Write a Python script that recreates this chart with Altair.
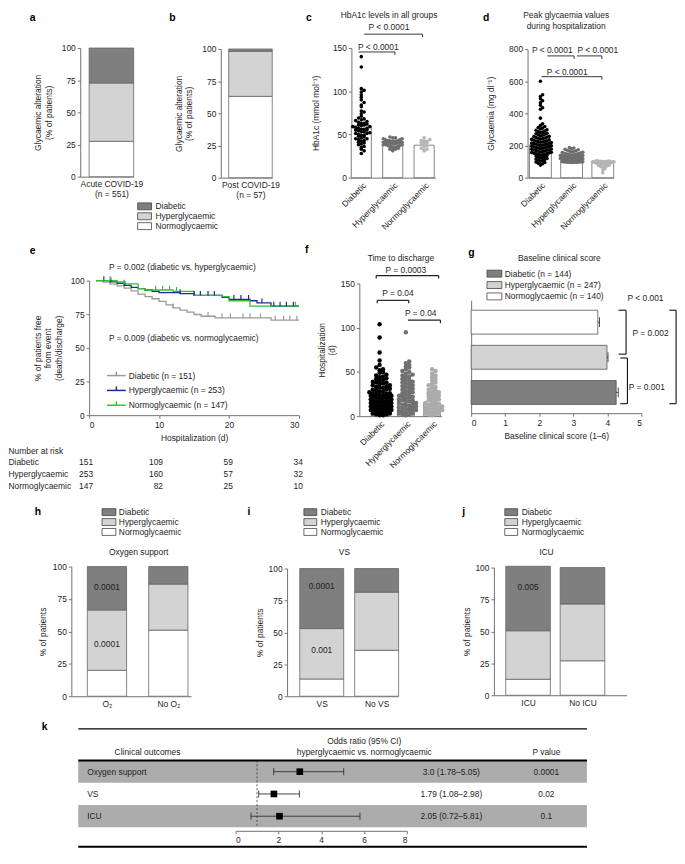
import json
import altair as alt
import pandas as pd

W, H = 676, 846
FONT = "Liberation Sans"
TXT = "#1e1e1e"
AX = "#707070"
FS = 8.5

# ---------------- data ----------------
GROUPS = ["Diabetic", "Hyperglycaemic", "Normoglycaemic"]

# a / b : glycaemic alteration (% of patients)
a_cat = [["Acute COVID-19", "(n = 551)"]]
a_normo, a_hyper, a_diab = [27.5], [45.3], [27.2]
b_cat = [["Post COVID-19", "(n = 57)"]]
b_normo, b_hyper, b_diab = [63.2], [35.0], [1.8]

# c : HbA1c (mmol/mol)
c_means = [60, 39, 37.5]
c_diab = [140, 128, 103, 101, 99, 96, 93, 90, 87, 84, 82, 77, 76, 74, 71, 69, 68, 67, 66, 65,
          64, 63, 63, 62, 61, 61, 60, 59, 59, 58, 57, 57, 56, 56, 55, 55, 54, 53, 53, 52, 51, 51,
          50, 49, 49, 48, 47, 46, 45, 45, 44, 43, 42, 41, 40, 39, 38, 36, 35, 33, 31, 28]
c_hyper = [47, 46, 46, 45, 45, 44, 44, 43, 43, 43, 42, 42, 42, 42, 41, 41, 41, 41, 40, 40, 40,
           40, 39, 39, 39, 38, 38, 38, 37, 37, 36, 36, 35, 35, 34, 33, 33, 32, 31]
c_normo = [46, 44, 43, 42, 42, 41, 40, 39, 38, 37, 36, 34, 33, 32, 31]

# d : peak glycaemia (mg/dl)
d_means = [205, 120, 92]
d_diab = [600, 515, 505, 490, 478, 465, 450, 435, 425, 370, 335, 325, 318, 312, 308, 303, 298,
          295, 290, 287, 283, 280, 276, 273, 270, 267, 264, 260, 257, 255, 252, 250, 247, 245,
          242, 240, 238, 235, 233, 230, 228, 226, 224, 222, 220, 218, 216, 214, 212, 210, 208,
          206, 204, 202, 200, 198, 196, 194, 192, 190, 188, 186, 184, 182, 180, 178, 176, 174,
          172, 170, 168, 166, 164, 162, 160, 158, 156, 154, 152, 150, 148, 146, 144, 142, 140,
          137, 134, 131, 128, 125, 122, 119, 116, 113, 110, 106, 102, 98, 94, 90, 86, 82, 78]
d_hyper = [188, 184, 180, 176, 173, 170, 167, 165, 162, 160, 158, 156, 154, 152, 150, 148, 147,
           145, 144, 142, 141, 140, 138, 137, 136, 135, 134, 133, 132, 131, 130, 129, 128, 127,
           126, 125, 124, 123, 122, 121, 120, 119, 118, 117, 116, 115, 114, 113, 112, 111, 110,
           109, 108, 107, 106, 105, 104, 103, 102, 101, 100, 100, 99, 99, 98, 98, 97, 97, 96, 96,
           96, 95, 95, 95]
d_normo = [105, 104, 103, 102, 101, 100, 100, 99, 99, 98, 97, 96, 95, 94, 94, 93, 92, 91, 90,
           90, 89, 88, 87, 86, 85, 84, 83, 82, 80, 78, 76, 73, 70, 66, 60, 55, 48, 30]

# e : Kaplan-Meier
km_diab_t = [1, 2, 3, 4, 5, 6, 7, 8, 9, 10, 11, 12, 13, 14, 15, 16, 18, 26, 30]
km_diab_s = [100, 98.8, 97.3, 96, 94.4, 92.4, 90, 88, 86.5, 84.6, 82, 79.7, 78, 76.5, 74.8,
             73.5, 72.3, 70.6, 70.6]
km_diab_c = [12, 17, 19, 20.2, 22, 23, 24.5, 26.6, 27.8, 28.7, 29.7]
km_hyper_t = [1, 3, 4, 5, 6, 7, 8, 9, 10, 13, 15, 19, 20, 23, 24, 26, 30]
km_hyper_s = [100, 99, 98, 96.5, 95, 94, 93, 92, 91, 90.3, 89, 87.5, 86, 85, 83.5, 81, 81]
km_hyper_c = [2.1, 3.1, 5.1, 13, 15, 15.9, 17, 17.9, 20.7, 21.7, 22.8, 24.7, 26.4, 27.3, 28.2, 29.2]
km_normo_t = [1, 4, 5, 7, 8, 12, 15, 19, 20, 23, 30]
km_normo_s = [100, 99, 97.5, 94, 93, 92, 89, 88, 85, 81, 81]
km_normo_c = [3, 5, 9.5, 10.5, 11.5, 12.5, 29.5]
km_n = [151, 253, 147]
nar_days = [0, 10, 20, 30]
nar_diab = [151, 109, 59, 34]
nar_hyper = [253, 160, 57, 32]
nar_normo = [147, 82, 25, 10]

# f : time to discharge (days)
f_means = [22, 18, 14]
f_diab = [104, 89, 72, 63, 58, 55, 53, 52, 50, 49, 47, 46, 45, 44, 43, 42, 41, 40, 39, 38, 38,
          37, 36, 35, 35, 34, 33, 32, 32, 31, 30, 30, 29, 28, 28, 27, 26, 26, 25, 25, 24, 24, 23,
          23, 22, 22, 21, 21, 20, 20, 19, 19, 18, 18, 17, 17, 16, 16, 15, 15, 14, 14, 13, 13, 12,
          12, 11, 11, 10, 10, 9, 9, 8, 8, 7, 7, 6, 6, 5, 5, 4, 4, 3, 3, 2, 2, 1, 1]
f_hyper = [95, 62, 60, 58, 56, 55, 53, 51, 50, 48, 47, 46, 45, 44, 42, 41, 40, 39, 38, 37, 36,
           35, 34, 33, 32, 31, 30, 29, 28, 27, 26, 25, 24, 23, 22, 22, 21, 20, 19, 18, 18, 17, 16,
           15, 15, 14, 13, 12, 12, 11, 10, 10, 9, 8, 8, 7, 6, 6, 5, 5, 4, 3, 3, 2, 2, 1]
f_normo = [53, 51, 48, 46, 44, 42, 40, 38, 36, 35, 33, 32, 30, 29, 28, 27, 26, 25, 24, 23, 22,
           21, 20, 19, 18, 17, 16, 15, 14, 13, 12, 12, 11, 10, 10, 9, 8, 8, 7, 6, 6, 5, 5, 4, 3,
           3, 2, 2, 1]

# g : baseline clinical score (top to bottom: normo, hyper, diab)
g_groups = ["Normoglycaemic", "Hyperglycaemic", "Diabetic"]
g_mean = [3.72, 3.99, 4.26]
g_err = [0.05, 0.03, 0.06]
g_n = [144, 247, 140]  # Diabetic, Hyperglycaemic, Normoglycaemic

# h / i / j
h_cat = ["O₂", "No O₂"]
h_normo, h_hyper, h_diab = [20, 51], [46.5, 35.5], [33.5, 13.5]
i_cat = ["VS", "No VS"]
i_normo, i_hyper, i_diab = [13.5, 36], [39.5, 45.5], [47, 18.5]
j_cat = ["ICU", "No ICU"]
j_normo, j_hyper, j_diab = [12.5, 27], [38, 44.5], [50.5, 28.5]

# k : forest plot
k_outcomes = ["Oxygen support", "VS", "ICU"]
k_or = [3.0, 1.79, 2.05]
k_lo = [1.78, 1.08, 0.72]
k_hi = [5.05, 2.98, 5.81]
k_or_text = ["3.0 (1.78–5.05)", "1.79 (1.08–2.98)", "2.05 (0.72–5.81)"]
k_p = ["0.0001", "0.02", "0.1"]

# ---------------- helpers ----------------
def X(v):
    return v - 8


def Y(v):
    return v - 8


FILL_SCALE = alt.Scale(domain=GROUPS, range=["#7f7f7f", "#d3d3d3", "#ffffff"])
KM_SCALE = alt.Scale(domain=GROUPS, range=["#9a9a9a", "#1b2a9c", "#2fc42f"])


def lab_expr(labels):
    parts = [f"datum.value == {i} ? {json.dumps(l, ensure_ascii=False)}" for i, l in enumerate(labels)]
    return " : ".join(parts) + " : ''"


def yaxis(x_ref, values, title, pad):
    kw = dict(orient="left", offset=-X(x_ref), values=values, grid=False, titlePadding=pad)
    return alt.Axis(title=title, **kw)


def px_text(items, align="center", size=FS, bold=False, color=TXT, baseline="middle"):
    df = pd.DataFrame([dict(t=t, px=X(x), py=Y(y)) for t, x, y in items])
    return alt.Chart(df).mark_text(align=align, baseline=baseline, font=FONT, fontSize=size,
                                   fontWeight="bold" if bold else "normal", color=color).encode(
        x=alt.X("px:Q", scale=None, axis=None), y=alt.Y("py:Q", scale=None, axis=None), text="t:N")


def px_rules(segs, color="#000", width=1.0, dash=None):
    df = pd.DataFrame([dict(x1=X(a), y1=Y(b), x2=X(c), y2=Y(d)) for a, b, c, d in segs])
    kw = dict(color=color, strokeWidth=width)
    if dash:
        kw["strokeDash"] = dash
    return alt.Chart(df).mark_rule(**kw).encode(
        x=alt.X("x1:Q", scale=None, axis=None), y=alt.Y("y1:Q", scale=None, axis=None),
        x2="x2:Q", y2="y2:Q")


def swatch_legend(x_sw, ys, labels, text_x, sw_w=14, sw_h=7):
    rows = []
    for g, lab, yc in zip(GROUPS, labels, ys):
        rows.append(dict(grp=g, lab=lab, x1=X(x_sw), x2=X(x_sw + sw_w), y1=Y(yc - sw_h / 2),
                         y2=Y(yc + sw_h / 2), tx=X(text_x), ty=Y(yc)))
    df = pd.DataFrame(rows)
    sw = alt.Chart(df).mark_rect(stroke="#444", strokeWidth=0.8).encode(
        x=alt.X("x1:Q", scale=None, axis=None), x2="x2:Q",
        y=alt.Y("y1:Q", scale=None, axis=None), y2="y2:Q",
        fill=alt.Fill("grp:N", scale=FILL_SCALE, legend=None))
    tx = alt.Chart(df).mark_text(align="left", baseline="middle", font=FONT, fontSize=FS, color=TXT).encode(
        x=alt.X("tx:Q", scale=None, axis=None), y=alt.Y("ty:Q", scale=None, axis=None), text="lab:N")
    return [sw, tx]


def stacked_panel(labels, normo, hyper, diab, ax_x, end_x, c0, step, half, y0, y100,
                  ytitle, tpad, notes=()):
    rows = []
    for i in range(len(normo)):
        for o, (g, v) in enumerate([("Normoglycaemic", normo[i]), ("Hyperglycaemic", hyper[i]),
                                    ("Diabetic", diab[i])]):
            rows.append({"idx": i, "grp": g, "pct": v, "ord": o})
    df = pd.DataFrame(rows)
    xs = alt.Scale(domain=[(ax_x - c0) / step, (end_x - c0) / step], range=[X(ax_x), X(end_x)],
                   nice=False, zero=False)
    ys = alt.Scale(domain=[0, 100], range=[Y(y0), Y(y100)], nice=False, zero=False)
    xax = alt.Axis(orient="bottom", offset=Y(y0) - H, values=list(range(len(labels))),
                   labelExpr=lab_expr(labels), ticks=False, title=None, labelAngle=0,
                   labelPadding=3, grid=False, labelOverlap=False)
    yax = yaxis(x_ref=ax_x, values=[0, 25, 50, 75, 100], title=ytitle, pad=tpad)
    bars = (alt.Chart(df)
            .transform_window(cum="sum(pct)", groupby=["idx"], sort=[alt.SortField("ord")], frame=[None, 0])
            .transform_calculate(lo="datum.cum - datum.pct", xl=f"datum.idx - {half}", xr=f"datum.idx + {half}")
            .mark_rect(stroke="#666", strokeWidth=0.8)
            .encode(x=alt.X("xl:Q", scale=xs, axis=xax), x2="xr:Q",
                    y=alt.Y("lo:Q", scale=ys, axis=yax), y2="cum:Q",
                    fill=alt.Fill("grp:N", scale=FILL_SCALE, legend=None)))
    layers = [bars]
    if notes:
        ndf = pd.DataFrame(list(notes), columns=["idx", "y", "t"])
        layers.append(alt.Chart(ndf).mark_text(font=FONT, fontSize=FS, color=TXT).encode(
            x=alt.X("idx:Q", scale=xs, axis=xax), y=alt.Y("y:Q", scale=ys, axis=yax), text="t:N"))
    return alt.layer(*layers)


def scatter_panel(vals, means, colors, ax_x, end_x, c0, step, half, y0, ytop, ymax, yvals,
                  ytitle, tpad, binsize, halfw, xstep, size, segs, texts, lw=0.9):
    xs = alt.Scale(domain=[(ax_x - c0) / step, (end_x - c0) / step], range=[X(ax_x), X(end_x)],
                   nice=False, zero=False)
    ys = alt.Scale(domain=[0, ymax], range=[Y(y0), Y(ytop)], nice=False, zero=False)
    xax = alt.Axis(orient="bottom", offset=Y(y0) - H, values=[0, 1, 2], labelExpr=lab_expr(GROUPS),
                   labelAngle=-45, labelAlign="right", labelBaseline="top", labelOverlap=False,
                   ticks=False, title=None, grid=False, labelPadding=3)
    yax = yaxis(x_ref=ax_x, values=yvals, title=ytitle, pad=tpad)
    bdf = pd.DataFrame({"gi": [0, 1, 2], "m": means})
    bars = (alt.Chart(bdf)
            .transform_calculate(xl=f"datum.gi - {half}", xr=f"datum.gi + {half}", z="0")
            .mark_rect(fill="white", stroke="#666", strokeWidth=0.8)
            .encode(x=alt.X("xl:Q", scale=xs, axis=xax), x2="xr:Q",
                    y=alt.Y("z:Q", scale=ys, axis=yax), y2="m:Q"))
    layers = [bars]
    for gi, (v, col) in enumerate(zip(vals, colors)):
        d = pd.DataFrame({"v": v})
        pts = (alt.Chart(d)
               .transform_calculate(b=f"floor(datum.v / {binsize})")
               .transform_window(rn="row_number()", groupby=["b"], sort=[alt.SortField("v")])
               .transform_joinaggregate(cnt="count()", groupby=["b"])
               .transform_calculate(sp=f"min({xstep}, {halfw} / max(floor(datum.cnt / 2), 1))")
               .transform_calculate(xo=f"{gi} + (datum.rn % 2 == 0 ? 1 : -1) * floor(datum.rn / 2) * datum.sp")
               .mark_circle(size=size, color=col, opacity=1)
               .encode(x=alt.X("xo:Q", scale=xs, axis=xax), y=alt.Y("v:Q", scale=ys, axis=yax)))
        layers.append(pts)
    sdf = pd.DataFrame(segs, columns=["x1", "y1", "x2", "y2"])
    layers.append(alt.Chart(sdf).mark_rule(color="#222", strokeWidth=lw).encode(
        x=alt.X("x1:Q", scale=xs, axis=xax), x2="x2:Q", y=alt.Y("y1:Q", scale=ys, axis=yax), y2="y2:Q"))
    tdf = pd.DataFrame(texts, columns=["x", "y", "t"])
    layers.append(alt.Chart(tdf).mark_text(font=FONT, fontSize=FS, color=TXT, baseline="middle").encode(
        x=alt.X("x:Q", scale=xs, axis=xax), y=alt.Y("y:Q", scale=ys, axis=yax), text="t:N"))
    return alt.layer(*layers)


layers = []

# ---------------- a, b ----------------
ab_title = ["Glycaemic alteration", "(% of patients)"]
layers.append(stacked_panel(a_cat, a_normo, a_hyper, a_diab, 81, 135, 112.5, 45, 0.5, 174, 44, ab_title, 8))
layers.append(stacked_panel(b_cat, b_normo, b_hyper, b_diab, 223, 275, 253, 44, 0.5, 175, 45, ab_title, 8))
layers += swatch_legend(139, [204, 214, 224], GROUPS, 157)

# ---------------- c ----------------
layers.append(scatter_panel(
    [c_diab, c_hyper, c_normo], c_means, ["#000000", "#6e6e6e", "#b5b5b5"],
    355, 440, 365, 31.75, 0.32, 175, 44, 150, [0, 50, 100, 150], "HbA1c (mmol mol⁻¹)", 12,
    3.5, 0.3, 0.09, 13,
    [(0.09, 166, 1.95, 166), (1.95, 166, 1.95, 162.6), (-0.09, 145.4, 1.07, 145.4), (1.07, 145.4, 1.07, 142)],
    [(0.88, 174, "P < 0.0001"), (0.54, 151.5, "P < 0.0001")]))

# ---------------- d ----------------
layers.append(scatter_panel(
    [d_diab, d_hyper, d_normo], d_means, ["#000000", "#6e6e6e", "#b5b5b5"],
    533, 620, 546, 31.5, 0.35, 175, 45, 800, [0, 200, 400, 600, 800], "Glycaemia (mg dl⁻¹)", 13,
    20, 0.36, 0.07, 13,
    [(0.22, 757, 1.08, 757), (1.08, 757, 1.08, 738), (1.17, 757, 1.97, 757), (1.97, 757, 1.97, 738),
     (0.03, 628, 1.97, 628), (1.97, 628, 1.97, 609)],
    [(0.38, 794, "P < 0.0001"), (1.84, 794, "P < 0.0001"), (0.86, 658, "P < 0.0001")]))

# ---------------- e ----------------
xs_e = alt.Scale(domain=[0, 30], range=[X(90), X(302)], nice=False, zero=False)
ys_e = alt.Scale(domain=[0, 100], range=[Y(415), Y(279)], nice=False, zero=False)
xax_e = alt.Axis(orient="bottom", offset=Y(415) - H, values=[0, 10, 20, 30], title="Hospitalization (d)",
                 grid=False, titlePadding=5)
yax_e = yaxis(x_ref=90, values=[0, 25, 50, 75, 100],
              title=["% of patients free", "from event", "(death/discharge)"], pad=7)


def step_lookup(ts, ss, t):
    val = ss[0]
    for tt, s in zip(ts, ss):
        if tt <= t:
            val = s
    return val


km_rows, cen_rows = [], []
for g, ts, ss, cs in zip(GROUPS, [km_diab_t, km_hyper_t, km_normo_t], [km_diab_s, km_hyper_s, km_normo_s],
                         [km_diab_c, km_hyper_c, km_normo_c]):
    for t, s in zip(ts, ss):
        km_rows.append(dict(grp=g, t=t, s=s))
    for t in cs:
        cen_rows.append(dict(grp=g, t=t, s=step_lookup(ts, ss, t)))
km_df = pd.DataFrame(km_rows)
cen_df = pd.DataFrame(cen_rows)
km_lines = alt.Chart(km_df).mark_line(interpolate="step-after", strokeWidth=1.3).encode(
    x=alt.X("t:Q", scale=xs_e, axis=xax_e), y=alt.Y("s:Q", scale=ys_e, axis=yax_e),
    stroke=alt.Stroke("grp:N", scale=KM_SCALE, legend=None), detail="grp:N")
km_cens = (alt.Chart(cen_df).transform_calculate(s2="datum.s + 3.2")
           .mark_rule(strokeWidth=1.2)
           .encode(x=alt.X("t:Q", scale=xs_e, axis=xax_e), y=alt.Y("s:Q", scale=ys_e, axis=yax_e), y2="s2:Q",
                   stroke=alt.Stroke("grp:N", scale=KM_SCALE, legend=None)))
layers.append(alt.layer(km_lines, km_cens))

# KM legend
leg_rows = []
for g, yc in zip(GROUPS, [375, 390, 405]):
    leg_rows.append(dict(grp=g, x1=X(108), x2=X(127), xm=X(117.5), y=Y(yc), yt=Y(yc - 4)))
leg_df = pd.DataFrame(leg_rows)
layers.append(alt.Chart(leg_df).mark_rule(strokeWidth=1.5).encode(
    x=alt.X("x1:Q", scale=None, axis=None), x2="x2:Q", y=alt.Y("y:Q", scale=None, axis=None),
    stroke=alt.Stroke("grp:N", scale=KM_SCALE, legend=None)))
layers.append(alt.Chart(leg_df).mark_rule(strokeWidth=1.5).encode(
    x=alt.X("xm:Q", scale=None, axis=None), y=alt.Y("y:Q", scale=None, axis=None), y2="yt:Q",
    stroke=alt.Stroke("grp:N", scale=KM_SCALE, legend=None)))
layers.append(px_text([(f"{g} (n = {n})", 130, yc) for g, n, yc in zip(GROUPS, km_n, [375, 390, 405])],
                      align="left"))

# number at risk
nar_rows = []
for ns, yy in zip([nar_diab, nar_hyper, nar_normo], [462, 474.5, 487]):
    for d, n in zip(nar_days, ns):
        nar_rows.append(dict(day=d, n=str(n), py=Y(yy)))
layers.append(alt.Chart(pd.DataFrame(nar_rows)).mark_text(
    align="right", dx=4, baseline="middle", font=FONT, fontSize=FS, color=TXT).encode(
    x=alt.X("day:Q", scale=alt.Scale(domain=[0, 30], range=[X(90), X(302)], nice=False, zero=False), axis=None),
    y=alt.Y("py:Q", scale=None, axis=None), text="n:N"))
layers.append(px_text([("Number at risk", 8.5, 451), ("Diabetic", 8.5, 462), ("Hyperglycaemic", 8.5, 474.5),
                       ("Normoglycaemic", 8.5, 487),
                       ("P = 0.002 (diabetic vs. hyperglycaemic)", 110, 265),
                       ("P = 0.009 (diabetic vs. normoglycaemic)", 110, 337)], align="left"))

# ---------------- f ----------------
layers.append(scatter_panel(
    [f_diab, f_hyper, f_normo], f_means, ["#000000", "#707070", "#ababab"],
    363, 446, 383.5, 26.5, 0.32, 416, 282, 150, [0, 50, 100, 150], ["Hospitalization", "(d)"], 4,
    4, 0.45, 0.13, 20,
    [(-0.13, 159, 2.25, 159), (-0.13, 159, -0.13, 155.6), (2.25, 159, 2.25, 155.6),
     (-0.09, 131, 1.11, 131), (-0.09, 131, -0.09, 127.6), (1.11, 131, 1.11, 127.6),
     (1.08, 108.6, 2.32, 108.6), (2.32, 108.6, 2.32, 105.2)],
    [(1.0, 165.7, "P = 0.0003"), (0.7, 138.8, "P = 0.04"), (1.57, 116.4, "P = 0.04")], lw=1.2))

# ---------------- g ----------------
xs_g = alt.Scale(domain=[0, 5], range=[X(476), X(648)], nice=False, zero=False)
ys_g = alt.Scale(domain=[-0.62, 2.59], range=[Y(299), Y(413)], nice=False, zero=False)
xax_g = alt.Axis(orient="bottom", offset=Y(413) - H, values=[0, 1, 2, 3, 4, 5],
                 title="Baseline clinical score (1–6)", grid=False, titlePadding=5)
yax_g = alt.Axis(orient="left", offset=-X(476), values=[], labels=False, ticks=False, title=None, grid=False)
g_df = pd.DataFrame({"r": [0, 1, 2], "grp": g_groups, "m": g_mean, "e": g_err})
gb = alt.Chart(g_df).transform_calculate(ya="datum.r - 0.34", yb="datum.r + 0.34", z="0",
                                         hi="datum.m + datum.e", ca="datum.r - 0.14", cb="datum.r + 0.14")
g_bars = gb.mark_rect(stroke="#555", strokeWidth=0.8).encode(
    x=alt.X("z:Q", scale=xs_g, axis=xax_g), x2="m:Q", y=alt.Y("ya:Q", scale=ys_g, axis=yax_g), y2="yb:Q",
    fill=alt.Fill("grp:N", scale=FILL_SCALE, legend=None))
g_err_l = gb.mark_rule(color="#333", strokeWidth=0.9).encode(
    x=alt.X("m:Q", scale=xs_g, axis=xax_g), x2="hi:Q", y=alt.Y("r:Q", scale=ys_g, axis=yax_g))
g_cap = gb.mark_rule(color="#333", strokeWidth=0.9).encode(
    x=alt.X("hi:Q", scale=xs_g, axis=xax_g), y=alt.Y("ca:Q", scale=ys_g, axis=yax_g), y2="cb:Q")
g_segs = pd.DataFrame(
    [(4.55, -0.34, 4.55, 0.91), (4.33, -0.34, 4.55, -0.34), (4.33, 0.91, 4.55, 0.91),
     (4.59, 1.02, 4.59, 2.32), (4.38, 1.02, 4.59, 1.02), (4.38, 2.32, 4.59, 2.32),
     (6.02, -0.34, 6.02, 2.32), (5.82, -0.34, 6.02, -0.34), (5.82, 2.32, 6.02, 2.32)],
    columns=["x1", "y1", "x2", "y2"])
g_br = alt.Chart(g_segs).mark_rule(color="#111", strokeWidth=1.1).encode(
    x=alt.X("x1:Q", scale=xs_g, axis=xax_g), x2="x2:Q", y=alt.Y("y1:Q", scale=ys_g, axis=yax_g), y2="y2:Q")
g_tx = alt.Chart(pd.DataFrame([(4.74, 0.31, "P = 0.002"), (4.63, 1.86, "P = 0.001"), (4.59, -0.68, "P < 0.001")],
                              columns=["x", "y", "t"])).mark_text(
    align="left", baseline="middle", font=FONT, fontSize=FS, color=TXT).encode(
    x=alt.X("x:Q", scale=xs_g, axis=xax_g), y=alt.Y("y:Q", scale=ys_g, axis=yax_g), text="t:N")
layers.append(alt.layer(g_bars, g_err_l, g_cap, g_br, g_tx))
layers += swatch_legend(492, [272, 283.5, 295], [f"{g} (n = {n})" for g, n in zip(GROUPS, g_n)], 510, sw_w=15)

# ---------------- h, i, j ----------------
pct_title = "% of patients"
layers.append(stacked_panel(h_cat, h_normo, h_hyper, h_diab, 72, 193, 108, 62, 0.32, 699, 568, pct_title, 5,
                            notes=[(0, 84, "0.0001"), (0, 40, "0.0001")]))
layers.append(stacked_panel(i_cat, i_normo, i_hyper, i_diab, 290, 402, 325, 55.5, 0.4, 699, 570, pct_title, 4,
                            notes=[(0, 86, "0.0001"), (0, 36, "0.001")]))
layers.append(stacked_panel(j_cat, j_normo, j_hyper, j_diab, 499, 633, 533.5, 55, 0.41, 698, 569, pct_title, 3,
                            notes=[(0, 85, "0.005")]))
layers += swatch_legend(103, [513, 523, 533], GROUPS, 120)
layers += swatch_legend(307, [513, 523, 533], GROUPS, 324, sw_w=13)
layers += swatch_legend(510, [513, 523, 533], GROUPS, 527, sw_w=13)

# ---------------- k ----------------
kdf = pd.DataFrame({"r": [0, 1, 2], "o": k_outcomes, "orv": k_or, "lo": k_lo, "hi": k_hi,
                    "ort": k_or_text, "p": k_p})
xs_k = alt.Scale(domain=[0, 8], range=[X(238), X(411)], nice=False, zero=False)
ys_k = alt.Scale(domain=[-0.5, 2.5], range=[Y(764), Y(831.5)], nice=False, zero=False)
xax_k = alt.Axis(orient="bottom", offset=Y(835) - H, values=[0, 2, 4, 6, 8], title=None, grid=False)
kb = alt.Chart(kdf).transform_calculate(ya="datum.r - 0.5", yb="datum.r + 0.5",
                                        ca="datum.r - 0.16", cb="datum.r + 0.16")
k_bg = kb.transform_filter("datum.r != 1").mark_rect(color="#acacac").encode(
    x=alt.value(X(79)), x2=alt.value(X(593)), y=alt.Y("ya:Q", scale=ys_k, axis=None), y2="yb:Q")
k_ref = alt.Chart(pd.DataFrame({"one": [1], "ya": [-0.5], "yb": [2.5]})).mark_rule(
    color="#333", strokeWidth=0.8, strokeDash=[2, 2]).encode(
    x=alt.X("one:Q", scale=xs_k, axis=xax_k), y=alt.Y("ya:Q", scale=ys_k, axis=None), y2="yb:Q")
k_ci = kb.mark_rule(color="#333", strokeWidth=0.9).encode(
    x=alt.X("lo:Q", scale=xs_k, axis=xax_k), x2="hi:Q", y=alt.Y("r:Q", scale=ys_k, axis=None))
k_c1 = kb.mark_rule(color="#333", strokeWidth=0.9).encode(
    x=alt.X("lo:Q", scale=xs_k, axis=xax_k), y=alt.Y("ca:Q", scale=ys_k, axis=None), y2="cb:Q")
k_c2 = kb.mark_rule(color="#333", strokeWidth=0.9).encode(
    x=alt.X("hi:Q", scale=xs_k, axis=xax_k), y=alt.Y("ca:Q", scale=ys_k, axis=None), y2="cb:Q")
k_sq = kb.mark_square(size=45, color="#000", opacity=1).encode(
    x=alt.X("orv:Q", scale=xs_k, axis=xax_k), y=alt.Y("r:Q", scale=ys_k, axis=None))
k_t1 = kb.mark_text(align="left", font=FONT, fontSize=FS, color=TXT).encode(
    x=alt.value(X(88)), y=alt.Y("r:Q", scale=ys_k, axis=None), text="o:N")
k_t2 = kb.mark_text(align="center", font=FONT, fontSize=FS, color=TXT).encode(
    x=alt.value(X(456)), y=alt.Y("r:Q", scale=ys_k, axis=None), text="ort:N")
k_t3 = kb.mark_text(align="center", font=FONT, fontSize=FS, color=TXT).encode(
    x=alt.value(X(552)), y=alt.Y("r:Q", scale=ys_k, axis=None), text="p:N")
layers.append(alt.layer(k_bg, k_ref, k_ci, k_c1, k_c2, k_sq, k_t1, k_t2, k_t3))
layers.append(px_rules([(79, 732, 593, 732)], width=1.2))
layers.append(px_rules([(79, 764, 593, 764), (79, 851, 593, 851)], width=2))

# ---------------- titles and letters ----------------
layers.append(px_text([("HbA1c levels in all groups", 393, 11), ("Peak glycaemia values", 572, 11),
                       ("during hospitalization", 572, 21.5), ("Time to discharge", 405, 256),
                       ("Baseline clinical score", 565, 256), ("Oxygen support", 140, 553),
                       ("VS", 348, 553), ("ICU", 552, 553), ("Clinical outcomes", 149, 755),
                       ("Odds ratio (95% CI)", 368, 744), ("hyperglycaemic vs. normoglycaemic", 368, 755),
                       ("P value", 552, 755)]))
layers.append(px_text([("a", 30, 9), ("b", 171, 9), ("c", 309, 9), ("d", 488, 9)],
                      align="left", size=10.5, bold=True, color="#000", baseline="top"))
layers.append(px_text([("e", 30, 249), ("f", 308, 248), ("g", 473, 251), ("h", 35, 513), ("i", 250, 513),
                       ("j", 467, 513), ("k", 42, 730)], align="left", size=10.5, bold=True, color="#000"))

chart = (alt.layer(*layers)
         .resolve_scale(x="independent", y="independent")
         .properties(width=W, height=H, autosize=alt.AutoSizeParams(type="none"), padding=0,
                     background="white")
         .configure_view(stroke=None)
         .configure_axis(labelFont=FONT, titleFont=FONT, labelFontSize=FS, titleFontSize=FS,
                         labelColor=TXT, titleColor=TXT, titleFontWeight="normal",
                         domainColor=AX, tickColor=AX, tickSize=3, labelPadding=2, grid=False))

chart.save("out.html", embed_options={"renderer": "svg", "actions": False})
